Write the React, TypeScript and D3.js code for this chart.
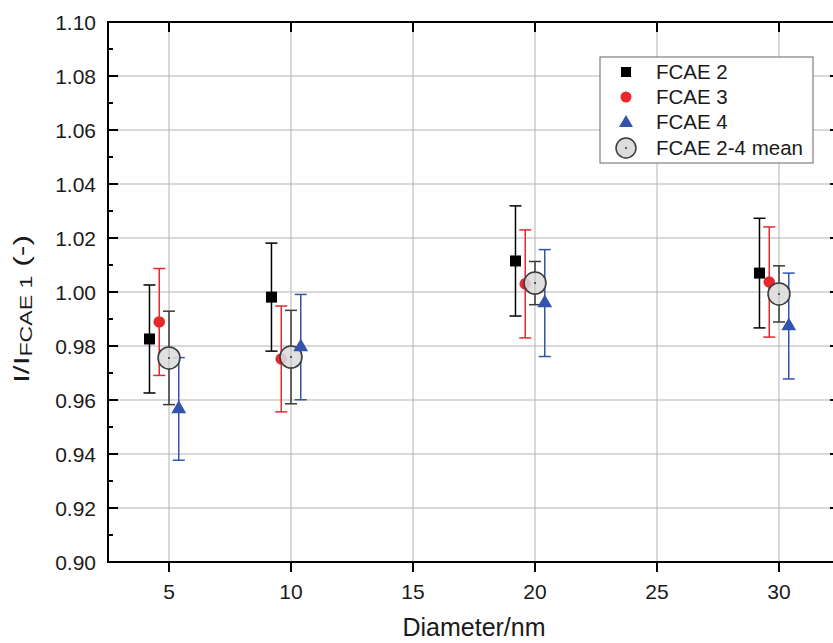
import React from "react";
import * as d3 from "d3";

const diameters = [5, 10, 20, 30];
const yTicks = [0.9, 0.92, 0.94, 0.96, 0.98, 1.0, 1.02, 1.04, 1.06, 1.08, 1.1];
const xTicks = [5, 10, 15, 20, 25, 30];

const fcae2X = [4.2, 9.2, 19.2, 29.2];
const fcae2Y = [0.9826, 0.9981, 1.0115, 1.007];
const fcae2Err = [0.02, 0.02, 0.0204, 0.0203];

const fcae3X = [4.6, 9.6, 19.6, 29.6];
const fcae3Y = [0.9889, 0.9752, 1.003, 1.0037];
const fcae3Err = [0.0198, 0.0196, 0.02, 0.0204];

const fcae4X = [5.4, 10.4, 20.4, 30.4];
const fcae4Y = [0.9567, 0.9796, 0.9959, 0.9874];
const fcae4Err = [0.019, 0.0195, 0.0198, 0.0196];

const meanX = diameters;
const meanY = [0.9756, 0.9759, 1.0033, 0.9993];
const meanErr = [0.0173, 0.0173, 0.008, 0.0104];

const legendLabels = ["FCAE 2", "FCAE 3", "FCAE 4", "FCAE 2-4 mean"];

const W = 833;
const H = 643;
const FONT = "'Liberation Sans', Arial, Helvetica, sans-serif";

export default function App() {
  const x = d3.scaleLinear().domain([2.5, 32.5]).range([108, 840]);
  const y = d3.scaleLinear().domain([0.9, 1.1]).range([562, 22]);
  const minorY = d3.range(0.91, 1.1, 0.02);

  const sq = d3.symbol().type(d3.symbolSquare).size(121)() as string;
  const tri = d3.symbol().type(d3.symbolTriangle).size(95)() as string;
  const sqL = d3.symbol().type(d3.symbolSquare).size(100)() as string;
  const triL = d3.symbol().type(d3.symbolTriangle).size(85)() as string;

  const errBars = (xs: number[], ys: number[], es: number[], color: string, key: string) =>
    xs.map((xv, i) => {
      const cx = x(xv);
      const t = y(ys[i] + es[i]);
      const b = y(ys[i] - es[i]);
      return (
        <g key={key + i} stroke={color} strokeWidth={1.5}>
          <line x1={cx} x2={cx} y1={t} y2={b} />
          <line x1={cx - 6} x2={cx + 6} y1={t} y2={t} />
          <line x1={cx - 6} x2={cx + 6} y1={b} y2={b} />
        </g>
      );
    });

  const black = "#000000";
  const red = "#e8272c";
  const blue = "#3453ad";
  const meanStroke = "#3a3a3a";

  const legendY = [72, 97, 122, 148];

  return (
    <svg
      width={W}
      height={H}
      style={{ position: "absolute", left: 0, top: 0, background: "#fff" }}
      fontFamily={FONT}
    >
      <rect x={0} y={0} width={W} height={H} fill="#fff" />
      {/* grid */}
      <g stroke="#b3b3b3" strokeWidth={1}>
        {xTicks.map((t) => (
          <line key={"gx" + t} x1={x(t)} x2={x(t)} y1={y(0.9)} y2={y(1.1)} />
        ))}
        {yTicks.map((t) => (
          <line key={"gy" + t} x1={x(2.5)} x2={x(32.5)} y1={y(t)} y2={y(t)} />
        ))}
      </g>

      {/* error bars */}
      {errBars(fcae2X, fcae2Y, fcae2Err, black, "e2")}
      {errBars(fcae3X, fcae3Y, fcae3Err, red, "e3")}
      {errBars(meanX, meanY, meanErr, meanStroke, "em")}
      {errBars(fcae4X, fcae4Y, fcae4Err, blue, "e4")}

      {/* markers */}
      {fcae2X.map((xv, i) => (
        <path key={"m2" + i} d={sq} transform={`translate(${x(xv)},${y(fcae2Y[i])})`} fill={black} />
      ))}
      {fcae3X.map((xv, i) => (
        <circle key={"m3" + i} cx={x(xv)} cy={y(fcae3Y[i])} r={5.8} fill={red} />
      ))}
      {meanX.map((xv, i) => (
        <g key={"mm" + i}>
          <circle cx={x(xv)} cy={y(meanY[i])} r={11} fill="#dcdcdc" fillOpacity={0.88} stroke={meanStroke} strokeWidth={1.5} />
          <circle cx={x(xv)} cy={y(meanY[i])} r={1} fill="#333" />
        </g>
      ))}
      {fcae4X.map((xv, i) => (
        <path key={"m4" + i} d={tri} transform={`translate(${x(xv)},${y(fcae4Y[i])})`} fill={blue} />
      ))}

      {/* frame */}
      <rect x={x(2.5)} y={y(1.1)} width={x(32.5) - x(2.5)} height={y(0.9) - y(1.1)} fill="none" stroke="#000" strokeWidth={2} />

      {/* ticks */}
      <g stroke="#000" strokeWidth={2}>
        {yTicks.map((t) => (
          <line key={"ly" + t} x1={x(2.5)} x2={x(2.5) + 10} y1={y(t)} y2={y(t)} />
        ))}
        {minorY.map((t) => (
          <line key={"lmy" + t} x1={x(2.5)} x2={x(2.5) + 5} y1={y(t)} y2={y(t)} />
        ))}
        {yTicks.map((t) => (
          <line key={"ry" + t} x1={x(32.5)} x2={x(32.5) - 10} y1={y(t)} y2={y(t)} />
        ))}
        {minorY.map((t) => (
          <line key={"rmy" + t} x1={x(32.5)} x2={x(32.5) - 5} y1={y(t)} y2={y(t)} />
        ))}
        {xTicks.map((t) => (
          <line key={"bx" + t} x1={x(t)} x2={x(t)} y1={y(0.9)} y2={y(0.9) + 10} />
        ))}
        {xTicks.map((t) => (
          <line key={"tx" + t} x1={x(t)} x2={x(t)} y1={y(1.1)} y2={y(1.1) + 10} />
        ))}
      </g>

      {/* tick labels */}
      <g fontSize={21} fill="#1a1a1a">
        {yTicks.map((t) => (
          <text key={"yl" + t} x={96} y={y(t) + 7.5} textAnchor="end">
            {d3.format(".2f")(t)}
          </text>
        ))}
        {xTicks.map((t) => (
          <text key={"xl" + t} x={x(t)} y={599} textAnchor="middle">
            {t}
          </text>
        ))}
      </g>

      {/* axis titles */}
      <text x={474} y={636} textAnchor="middle" fontSize={25} fill="#1a1a1a">
        Diameter/nm
      </text>
      <text
        transform="translate(29,309) rotate(-90)"
        textAnchor="middle"
        fontSize={22}
        fill="#1a1a1a"
        textLength={148}
        lengthAdjust="spacingAndGlyphs"
      >
        I/I
        <tspan fontSize={16} dy={3}>FCAE 1</tspan>
        <tspan dy={-3}> (-)</tspan>
      </text>

      {/* legend */}
      <rect x={600} y={57} width={213} height={106} fill="#fff" stroke="#666" strokeWidth={1} />
      <path d={sqL} transform={`translate(626,${legendY[0]})`} fill={black} />
      <circle cx={626} cy={legendY[1]} r={5.5} fill={red} />
      <path d={triL} transform={`translate(626,${legendY[2] + 1})`} fill={blue} />
      <g>
        <circle cx={626} cy={legendY[3]} r={10} fill="#dcdcdc" stroke={meanStroke} strokeWidth={1.5} />
        <circle cx={626} cy={legendY[3]} r={1} fill="#333" />
      </g>
      <g fontSize={20.5} fill="#1a1a1a">
        {legendLabels.map((l, i) => (
          <text key={l} x={656} y={legendY[i] + 7.3}>
            {l}
          </text>
        ))}
      </g>
    </svg>
  );
}
